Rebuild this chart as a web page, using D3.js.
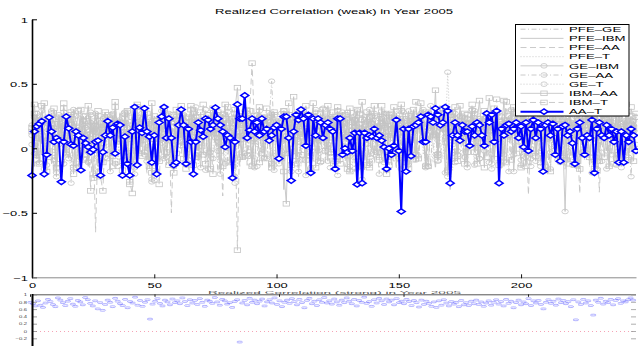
<!DOCTYPE html>
<html>
<head>
<meta charset="utf-8">
<script src="https://cdn.jsdelivr.net/npm/d3@7"></script>
<style>
  body { margin: 0; background: #fff; }
  svg { display: block; }
  text { font-family: "Liberation Sans", Arial, sans-serif; }
</style>
</head>
<body>
<svg id="chart" width="638" height="346"></svg>
<script>
const seriesNames = ["PFE–GE", "PFE–IBM", "PFE–AA", "PFE–T", "GE–IBM", "GE–AA", "GE–T", "IBM–AA", "IBM–T", "AA–T"];

const pfeGe = [.12,.05,-.08,.18,.22,.03,-.12,.15,.09,.27,-.04,.11,.20,-.15,.06,.14,.25,-.02,.08,.17,-.10,.21,.04,.13,-.06,.19,.10,-.18,.24,.07,.01,
  .16,-.09,.23,.12,.02,.28,-.05,.09,.18,-.13,.14,.26,.05,-.07,.20,.11,-.20,.15,.31,.03,.08,-.11,.22,.17,-.03,.12,.25,.00,-.16,.19,.09,
  .13,.27,-.08,.06,.21,.14,-.12,.18,.03,.24,.10,-.06,.29,.15,-.19,.11,.07,.22,-.02,.16,.30,.05,-.10,.19,.12,.26,-.14,.08,.21,.02,.17,
  -.07,.23,.14,.09,-.17,.28,.11,.04,.19,-.09,.25,.13,.06,-.04,.20,.16,-.22,.12,.27,.08,.01,.18,-.11,.24,.15,.03,.21,-.05,.10,.30,.07,
  -.13,.17,.22,.02,.14,-.08,.26,.11,-.18,.19,.09,.23,-.03,.15,.28,.06,-.12,.20,.13,.00,.24,-.07,.17,.10,.29,-.15,.12,.21,.04,.18,-.06,
  .25,.14,.08,-.10,.22,.31,.05,.16,-.14,.19,.12,.27,-.04,.09,.23,.15,-.20,.18,.06,.26,.11,-.08,.21,.14,.02,.28,.17,-.12,.07,.24,.13,
  .03,.20,-.09,.25,.16,.10,-.16,.22,.30,.08,.14,-.05,.19,.11,.27,-.13,.06,.21,.15,-.02,.24,.09,.18,-.11,.28,.12,.04,.20,-.07,.16,.26,
  .10,-.17,.23,.13,.07,.19,-.03,.25,.15,-.09,.21,.11,.29,.05,-.14,.18,.24,.08,.14,-.06,.22,.17,.01,.27,-.10,.12,.20,.06,.15,-.04,.19];

const pfeIbm = [.20,.14,.26,.08,-.05,.18,.23,.11,-.12,.16,.29,.07,.19,-.03,.24,.13,.02,.21,.17,-.09,.25,.10,.15,-.14,.22,.06,.28,.12,-.01,.19,.09,
  .23,-.06,.14,.27,.04,.18,-.11,.21,.13,.08,.30,-.08,.16,.24,.01,.20,.12,-.16,.26,.09,.17,.05,-.04,.22,.15,.28,-.10,.11,.19,.03,.25,
  .14,-.13,.21,.07,.27,.16,-.02,.23,.10,.18,-.07,.29,.12,.04,.20,-.15,.25,.13,.08,.22,-.05,.17,.31,.06,-.09,.19,.14,.26,.02,-.12,.21,
  .11,.24,-.04,.18,.08,.28,.15,-.10,.20,.13,-.32,.22,.05,.17,.26,-.06,.12,.19,.09,-.14,.27,.16,.03,.21,-.08,.25,.11,.18,-.01,.23,.14,
  .06,.20,-.11,.26,.15,.09,-.05,.22,.30,.12,-.17,.18,.07,.24,.14,-.03,.21,.10,.28,-.09,.16,.23,.04,-.13,.19,.27,.11,.02,.25,-.06,.17,
  .13,.29,-.08,.20,.10,.24,-.15,.16,.07,.22,.33,-.04,.18,.12,.26,.01,-.32,.21,.14,-.10,.19,.09,.25,-.07,.15,.28,.05,.20,-.12,.23,.11,
  .17,.02,.26,-.09,.14,.21,.08,-.14,.24,.18,.11,-.03,.29,.15,.06,.22,-.11,.19,.13,.27,-.06,.10,.23,.16,-.16,.20,.12,.04,.25,-.02,.18,
  .21,.09,-.10,.26,.14,.19,.03,-.07,.23,.16,.28,-.13,.12,.20,.07,-.04,.24,.17,.10,-.15,.22,.13,.27,.05,-.08,.18,.25,.11,-.01,.21,.15];

const pfeAa = [.09,-.14,.17,.05,.22,-.07,.13,.25,.01,-.19,.16,.10,.28,-.03,.19,.07,-.11,.23,.14,.02,-.16,.20,.11,.26,-.05,.15,-.65,.08,.18,-.09,.24,
  .12,.04,-.12,.21,.15,.27,-.06,.10,.18,-.15,.24,.07,.13,-.02,.20,.29,-.10,.16,.06,.22,-.08,.11,.19,.03,-.13,.25,-.50,.14,.08,.21,-.04,
  .17,.11,-.17,.26,.05,.20,.13,-.07,.23,.09,.16,-.11,.28,.02,.18,.12,-.37,.22,.15,.07,-.05,.25,.19,-.14,.10,.27,.04,.16,-.09,.21,.13,
  .08,.24,-.03,.18,.11,-.16,.26,.14,.05,.21,-.10,.17,.29,.09,-.06,.23,.13,.01,.19,-.13,.25,.10,.16,-.02,.22,.07,.28,-.11,.15,.20,.04,
  -.08,.18,.12,.26,-.14,.21,.06,.15,-.04,.24,.11,.19,-.18,.27,.08,.14,.02,-.09,.22,.16,.29,-.06,.12,.20,.05,-.15,.25,.10,.17,-.02,.23,
  .14,.07,-.12,.21,.28,.11,-.07,.18,.24,.03,-.16,.20,.13,.26,-.05,.15,.09,.22,-.10,.17,.30,.06,-.13,.19,.12,.25,-.03,.16,.08,.23,-.09,
  .20,.13,.27,-.06,.11,.18,-.14,.24,.09,.16,.03,-.11,.22,.14,.29,-.04,.17,-.36,.10,.21,.06,-.08,.25,.15,.12,-.17,.19,.08,.26,.02,-.05,
  .18,.23,.11,-.10,.16,.27,.07,-.35,.20,.13,.04,.24,.15,-.06,.19,-.34,.10,.22,.28,-.12,.17,.09,.25,.01,-.07,.21,.14,.26,-.03,.18,.11];

const pfeT = [.15,.22,.03,-.10,.18,.26,.11,-.04,.20,.14,-.17,.24,.07,.19,.12,-.08,.27,.16,.05,-.13,.21,.10,.25,-.02,.17,.08,.23,-.11,.14,.28,.06,
  -.05,.19,.13,.24,-.14,.16,.09,.21,.02,-.09,.26,.15,.11,-.03,.22,.18,.06,-.16,.25,.12,.20,-.07,.14,.29,.08,-.12,.17,.23,.04,.19,-.01,
  .21,.10,-.13,.25,.16,.07,.28,-.06,.18,.12,-.19,.23,.15,.04,-.10,.20,.27,.09,-.04,.17,.13,.24,-.15,.11,.19,.05,.26,-.08,.16,.22,.01,
  .13,-.11,.20,.27,.08,-.02,.18,.14,.25,-.12,.10,.22,.06,-.07,.19,.15,.28,-.14,.12,.21,.03,.17,-.09,.24,.11,.16,-.05,.26,.09,.20,-.16,
  .18,.07,.23,-.04,.15,.29,.10,-.12,.21,.13,.02,.26,-.08,.17,.11,-.15,.24,.19,.06,-.03,.22,.14,.27,-.10,.09,.18,.25,-.06,.16,.12,.20,
  -.13,.23,.08,.17,.26,-.05,.14,.21,.10,-.11,.19,.28,.04,-.08,.16,.22,.12,-.17,.25,.07,.18,.13,-.02,.24,.15,.09,-.14,.20,.27,.06,.11,
  .19,-.07,.24,.13,.08,.21,-.12,.16,.27,.05,.14,-.09,.22,.18,.10,-.15,.25,.12,.03,.20,-.04,.17,.28,.09,-.10,.23,.15,.07,.19,-.13,.26,
  .12,.18,-.06,.22,.14,.29,.03,-.11,.20,.16,.09,-.14,.25,.11,.19,-.03,.23,.13,.06,-.09,.27,.15,.21,-.05,.10,.17,.24,-.12,.14,.20,.08];

const geIbm = [.10,.24,-.06,.17,.29,.05,-.13,.21,.14,.08,-.22,.26,.12,.18,-.04,.23,.09,.30,-.15,.16,.11,.25,.02,-.10,.20,.13,.27,-.07,.19,.06,.22,
  .15,-.18,.25,.09,.20,.13,-.02,.28,.16,.07,-.12,.23,.11,.19,.31,-.05,.14,.21,-.26,.17,.08,.24,.12,-.08,.20,.27,.05,-.14,.18,.22,.10,
  .26,.13,-.09,.21,.16,.32,.04,-.15,.19,.23,.11,-.03,.25,.17,.08,-.20,.22,.14,.28,.06,-.11,.18,.24,.10,-.06,.21,.30,.15,-.13,.12,.26,
  .08,.19,-.08,.23,.15,.27,-.17,.11,.20,.05,.29,-.04,.16,.22,.13,-.12,.25,.09,.18,-.21,.14,.26,.07,.21,-.02,.17,.31,.12,-.10,.24,.15,
  .20,-.07,.13,.28,.09,.22,-.14,.17,.25,.06,.19,-.24,.12,.21,.30,.08,-.05,.16,.23,.14,-.11,.27,.10,.18,-.03,.24,.15,-.16,.20,.11,.29,
  .07,-.09,.22,.17,.26,.12,-.13,.19,.33,.10,.24,-.06,.15,.21,-.19,.28,.13,.08,.23,-.02,.18,.25,.11,-.15,.20,.14,.27,.04,-.08,.22,.16,
  .24,.11,-.12,.19,.27,.08,.16,-.05,.22,.13,.30,-.18,.14,.20,.09,.25,-.07,.17,.12,.28,-.10,.21,.15,.06,-.14,.23,.18,.26,.02,-.09,.19,
  .13,-.49,.21,.16,.07,.25,-.11,.18,.12,.28,-.04,.20,.15,.23,-.16,.10,.26,.14,-.02,.19,.24,.08,-.13,.22,.17,.11,.27,-.07,.16,.21,.12];

const geAa = [.03,.17,.27,-.11,.13,.20,-.05,.24,.09,.16,-.19,.22,.11,.28,.01,-.08,.19,.14,.25,-.14,.10,.21,.06,-.03,.26,.15,-.21,.18,.12,.23,-.07,
  .19,.08,.26,-.12,.15,.22,.04,-.09,.28,.13,.18,-.15,.21,.10,.27,-.03,.16,.24,-.24,.12,.20,.07,.29,-.06,.14,.19,-.11,.25,.09,.17,.02,
  .22,-.13,.18,.11,.27,.05,-.07,.20,.15,.30,-.16,.12,.24,.08,-.02,.19,.26,.13,-.10,.21,.16,-.27,.23,.09,.18,.29,-.05,.14,.20,.07,-.14,
  .25,.17,.10,-.08,.22,.52,.13,.19,-.12,.27,.06,.16,-.04,.23,.14,.20,-.18,.11,.26,.09,-.06,.21,.15,.28,-.10,.17,.12,.24,.03,-.15,.19,
  .14,.26,-.09,.18,.11,.23,-.17,.20,.08,.29,.15,-.04,.22,.13,-.12,.25,.17,.06,-.20,.19,.27,.10,-.07,.24,.14,.21,-.01,.16,.28,.09,-.13,
  .21,.12,.25,-.06,.17,.30,.08,-.14,.19,.23,.11,-.10,.26,.15,.04,-.22,.20,.13,.27,-.05,.18,.24,.09,-.12,.22,.16,.29,.02,-.08,.19,.14,
  .26,-.11,.17,.22,.08,.28,-.04,.15,.20,-.18,.24,.12,.19,.05,-.09,.27,.16,.21,-.14,.13,.25,.10,-.02,.23,.18,.07,-.16,.20,.29,.11,.15,
  -.07,.22,.14,.26,-.13,.19,.09,.24,-.03,.17,.28,.12,-.19,.21,.15,.06,-.10,.25,.18,.23,-.05,.16,.11,.27,-.15,.20,.13,.08,-.22,.18,.24];

const geT = [.18,-.04,.11,.25,.07,-.16,.21,.14,.29,-.09,.17,.03,.23,-.12,.19,.10,-.27,.26,.13,.08,-.02,.22,.16,-.11,.28,.05,.15,-.18,.20,.12,.24,
  -.08,.17,.27,.09,-.14,.21,.13,.26,-.03,.18,.10,-.20,.24,.15,.06,.29,-.10,.19,.12,-.25,.22,.16,.04,.27,-.07,.14,.20,-.13,.25,.11,.18,
  .06,-.10,.23,.17,.28,-.05,.13,.20,.09,-.17,.26,.14,-.08,.21,.18,.03,.27,-.12,.16,.22,.10,-.22,.19,.25,.07,-.04,.24,.15,.11,-.15,.20,
  .29,.12,-.07,.18,.24,.08,-.13,.21,.16,-.02,.27,.10,.19,-.18,.23,.14,.05,-.09,.26,.17,.12,-.15,.22,.30,.06,-.11,.18,.25,.13,-.04,.21,
  .16,-.21,.24,.11,.19,.28,-.06,.14,.22,.09,-.14,.26,.17,.03,-.10,.20,.27,.13,-.03,.23,.18,-.17,.25,.10,.15,.29,-.08,.19,.12,.21,-.12,
  .24,.14,-.09,.20,.27,.07,-.15,.18,.22,.11,.26,-.04,.16,.21,.09,.59,.13,.28,-.11,.19,.25,.06,-.07,.23,.15,.30,-.13,.17,.12,.20,-.02,
  .27,.13,-.16,.22,.17,.08,.25,-.10,.19,.14,.29,-.05,.21,.11,-.13,.26,.16,.04,-.08,.23,.18,.28,-.14,.15,.20,.10,-.03,.24,.13,.19,-.11,
  .22,.16,.27,-.06,.18,.11,-.14,.25,.20,.09,-.04,.23,.15,.28,-.10,.17,.12,.26,-.16,.21,.14,.07,-.08,.24,.19,.29,-.02,.16,.22,.13,.03];

const ibmAa = [.16,.34,.08,-.12,.22,.35,.13,-.07,.27,.19,-.15,.24,.10,.31,-.03,.18,.26,-.20,.14,.29,.06,-.09,.21,.33,.11,-.23,.17,.25,.04,-.11,.28,
  .15,.22,-.06,.36,.12,.20,-.17,.27,.09,-.28,.24,.16,.32,-.04,.19,.26,.11,-.14,.35,.07,.21,-.10,.18,.29,-.03,.23,.13,-.19,.30,.10,.25,
  -.08,.20,.15,.33,-.13,.24,.09,.28,-.05,.17,.22,-.16,.31,.12,.26,-.02,.19,.34,.08,-.11,.23,.30,.47,.16,-.07,.21,.27,.11,-.14,.25,.18,
  .32,-.04,.19,.24,.10,-.12,.28,.15,.21,.07,-.18,-.43,.26,.13,.40,-.06,.22,.17,.30,-.09,.24,.12,.35,-.15,.20,.27,.08,-.02,.33,.16,.23,
  -.10,.29,.18,.25,.05,-.16,.31,.14,.22,-.07,.27,.36,.11,-.13,.24,.19,.33,-.03,.17,.28,.09,-.20,.26,.15,.32,-.08,.21,.34,.12,-.11,.25,
  .18,.30,-.05,.23,.35,.13,-.14,.27,.20,.09,.45,-.09,.24,.31,.16,-.18,.22,.28,.11,-.06,.33,.19,-.12,.26,.14,.29,-.03,.21,.37,.10,-.15,
  .24,.39,.17,-.08,.28,.21,.13,.37,-.11,.25,.19,.32,-.04,.22,.15,.30,-.14,.27,.09,.34,-.06,.20,.26,.12,-.17,.31,.18,.23,-.02,.29,.14,
  .33,-.09,.21,.27,.16,-.13,.30,.19,.24,-.05,.35,.12,.22,-.16,.28,.17,.32,-.07,.20,.26,.11,-.12,.31,.23,.15,-.03,.34,.18,.25,-.10,.27];

const ibmT = [.13,.27,-.09,.20,.33,.06,-.18,.24,.15,.31,-.12,.19,.08,.35,-.05,.22,.28,-.15,.17,.11,.30,-.08,.25,.14,-.33,.21,.09,.29,-.22,-.33,.18,
  .26,.12,-.14,.32,.19,.07,-.10,.23,.29,-.26,-.35,.16,.34,.10,-.06,.21,.27,.13,-.19,.25,.18,-.28,.22,.31,.08,-.13,.20,.26,-.04,.15,.33,
  .11,-.16,.24,.30,.09,-.07,.21,.17,.34,-.12,.26,.14,-.20,.19,.28,.05,-.14,.23,.32,.12,-.09,.27,-.79,.18,.25,.10,-.06,.29,.66,.16,.21,
  -.11,.24,.18,.31,.07,-.15,.26,.20,.13,-.08,.29,.16,.35,-.13,.22,.10,.27,-.05,.19,.33,.12,-.17,.25,.21,.08,-.10,.30,.15,.23,-.03,.28,
  .14,.32,-.12,.20,.26,.09,-.18,.24,.17,.30,-.06,.22,.13,.28,-.15,.19,.25,.11,-.09,.33,.16,.21,-.13,.27,.08,.18,-.04,.29,.23,.12,-.16,
  .25,.19,.36,-.08,.22,.13,.28,-.14,.17,.24,.10,-.05,.30,.20,.15,-.17,.26,.11,.32,-.10,.21,.16,.27,-.03,.19,.34,.09,-.12,.23,.18,.29,
  -.07,.22,.14,.31,.38,-.13,.24,.19,.36,.10,-.09,.27,.16,.21,-.15,.30,.12,.25,-.04,.20,.33,.08,-.11,.26,.17,.23,-.18,.28,.13,.19,-.06,
  .24,.31,.15,-.12,.20,.27,.09,-.16,.25,.18,.33,-.07,.22,.14,.29,-.10,.19,.26,.11,-.14,.30,.17,.23,-.05,.28,.13,.21,-.09,.32,.16,.24];

const aaT = [-.21,.13,.17,.19,.21,-.20,-.05,.24,.13,.05,.08,.06,-.26,.05,.245,.155,.03,.02,.13,.10,-.17,.08,.04,.01,-.03,-.01,.05,.06,-.21,-.03,
  .10,.21,.10,.16,-.04,.19,.18,-.21,.09,-.12,-.21,.13,.32,-.13,.16,.12,.31,.13,.09,-.11,
  .10,-.20,.20,.245,.32,.08,.23,.08,-.13,-.11,.18,.30,.18,-.12,.15,.05,-.20,.05,.20,.14,.09,.23,.22,.15,.18,.315,.23,.18,.13,.01,
  .10,.08,-.23,.05,.34,.23,.23,.41,.08,.14,.23,.13,.20,.10,.23,.13,.15,.06,
  .10,.16,.18,-.08,.15,.245,.245,.08,-.25,.13,.26,.22,.30,.23,.02,.26,-.19,.23,.10,.23,.20,.08,.18,.20,.15,.13,-.16,.23,.23,-.05,
  .00,-.03,.08,-.02,.12,-.28,.12,-.27,.12,.08,.10,.09,.15,.08,.10,.06,.01,-.16,.00,
  -.05,.02,.22,-.02,-.49,.15,-.18,.15,-.06,.17,.18,.20,.245,.05,.05,.26,.245,.20,.31,.26,.18,.20,.32,.29,-.27,.10,.20,.10,.06,.18,
  .13,.13,.02,.17,.10,.20,.18,.10,.02,.27,.20,.26,.05,.29,-.27,.15,.10,.18,.19,.13,
  .15,.20,.08,.17,.01,.20,-.02,.15,.22,.08,.20,.15,-.18,.18,.20,.10,.19,-.05,.15,-.10,.17,.18,.10,.13,.04,-.12,.15,.20,.08,-.05,
  .10,.08,.22,-.19,.15,.20,.10,.08,.18,.10,.15,.05,.13,-.11,.13,-.11,.10,.05,.15,.10,-.02];

const yTicks = [-1, -0.5, 0, 0.5, 1];
const xTicks = [0, 50, 100, 150, 200];

// second figure, mostly hidden under the first one
const lowerVals = [.80,.76,.70,.84,.72,.66,.78,.88,.82,.74,.68,.92,.86,.79,.71,.83,.90,.75,.69,.85,.81,.73,.93,.87,.77,.70,.84,.62,.79,.58,
  .74,.86,.80,.68,.91,.83,.76,.71,.88,.65,.82,.78,.94,.72,.85,.69,.80,.87,.34,.75,.83,.90,.77,.70,.86,.81,.73,.89,.79,.84,
  .76,.92,.82,.71,.87,.78,.85,.74,.90,.80,.69,.86,.83,.77,.93,.81,.72,.88,.84,.75,.79,.66,.82,.87,-.29,.78,.85,.73,.91,.80,
  .86,.76,.83,.89,.70,.81,.87,.78,.92,.74,.84,.68,.80,.86,.77,.90,.82,.73,.88,.79,.65,.85,.91,.76,.83,.71,.87,.80,.93,.78,
  .84,.75,.89,.81,.72,.86,.79,.92,.83,.76,.88,.70,.85,.80,.94,.77,.82,.69,.87,.78,.91,.84,.74,.89,.81,.86,.73,.90,.79,.83,
  .76,.88,.82,.71,.85,.79,.67,.86,.74,.83,.77,.69,.81,.66,.84,.72,.87,.78,.70,.82,.75,.80,.68,.85,.73,.79,.71,.83,.76,.86,
  .74,.81,.69,.78,.84,.72,.80,.87,.75,.82,.70,.88,.77,.83,.65,.79,.86,.73,.81,.76,.90,.71,.84,.78,.85,.74,.62,.80,.87,.77,
  .83,.72,.89,.79,.85,.76,.82,.68,.87,.32,.81,.74,.88,.78,.84,.71,.45,.86,.80,.91,.75,.83,.79,.88,.73,.85,.90,.77,.84,.81,.87,.92,.86];
const lowerTicks = [1, 0.8, 0.6, 0.4, 0.2, 0, -0.2];
const lowerXTicks = [0, 50, 100, 150, 200];

const grayData = [pfeGe, pfeIbm, pfeAa, pfeT, geIbm, geAa, geT, ibmAa, ibmT];
const gray = "#c4c4c4";
const dashDot = "5,2.5,1,2.5", dashed = "6,3.5", dotted = "1,2";
const styles = [
  { dash: dashDot, marker: null },
  { dash: null, marker: null },
  { dash: dashed, marker: null },
  { dash: dotted, marker: null },
  { dash: null, marker: "circle" },
  { dash: dashDot, marker: "circle" },
  { dash: dotted, marker: "circle" },
  { dash: null, marker: "square" },
  { dash: dashed, marker: "square" },
];

const TX = 1.72; // the figure is stretched sideways
const svg = d3.select("#chart");

function label(g, x, y, str, size, anchor, fill) {
  return g.append("text")
    .attr("transform", `translate(${x},${y}) scale(${TX},1)`)
    .attr("text-anchor", anchor)
    .attr("font-size", size)
    .attr("fill", fill || "#000")
    .text(str);
}

function drawMarker(g, type, cx, cy, color, sw) {
  if (type === "circle") {
    g.append("ellipse").attr("cx", cx).attr("cy", cy).attr("rx", 3.2).attr("ry", 2.3)
      .attr("fill", "none").attr("stroke", color).attr("stroke-width", sw);
  } else if (type === "square") {
    g.append("rect").attr("x", cx - 3.2).attr("y", cy - 2.3).attr("width", 6.4).attr("height", 4.6)
      .attr("fill", "none").attr("stroke", color).attr("stroke-width", sw);
  } else if (type === "diamond") {
    g.append("path").attr("d", `M${cx},${cy - 2.7}L${cx + 4},${cy}L${cx},${cy + 2.7}L${cx - 4},${cy}Z`)
      .attr("fill", "#fff").attr("stroke", color).attr("stroke-width", sw);
  }
}

// ---- lower figure (peeking out below) ----
const lx = d3.scaleLinear().domain([0, 243]).range([30.5, 635.6]);
const ly = d3.scaleLinear().domain([-0.2, 1]).range([338.8, 295]);
const lower = svg.append("g");

lower.append("line").attr("x1", 32).attr("x2", 636).attr("y1", ly(0)).attr("y2", ly(0))
  .attr("stroke", "#f5a3b5").attr("stroke-width", 1).attr("stroke-dasharray", "1,3");

lower.selectAll("ellipse.pt")
  .data(lowerVals)
  .enter().append("ellipse")
  .attr("class", "pt")
  .attr("cx", (d, i) => lx(i))
  .attr("cy", d => ly(d))
  .attr("rx", 2.8).attr("ry", 0.9)
  .attr("fill", "none").attr("stroke", "#3a3aff").attr("stroke-width", 0.7).attr("opacity", 0.55);

// its title only shows as a thin strip of tiny glyphs
lower.append("text")
  .attr("x", 334.5).attr("y", 294)
  .attr("text-anchor", "middle")
  .attr("font-size", 3.4)
  .attr("textLength", 253).attr("lengthAdjust", "spacingAndGlyphs")
  .attr("fill", "#555")
  .text("Realized Correlation (strong) in Year 2005");

lower.append("line").attr("x1", 32).attr("x2", 636).attr("y1", 294.8).attr("y2", 294.8)
  .attr("stroke", "#555").attr("stroke-width", 1);
lowerXTicks.forEach(t => {
  lower.append("line").attr("x1", lx(t)).attr("x2", lx(t)).attr("y1", 294.3).attr("y2", 296.8)
    .attr("stroke", "#222").attr("stroke-width", 1);
});
lowerTicks.forEach(t => {
  lower.append("line").attr("x1", 32).attr("x2", 37).attr("y1", ly(t)).attr("y2", ly(t))
    .attr("stroke", "#888").attr("stroke-width", 0.8);
  lower.append("line").attr("x1", 631).attr("x2", 636).attr("y1", ly(t)).attr("y2", ly(t))
    .attr("stroke", "#999").attr("stroke-width", 0.8);
  label(lower, 27, ly(t) + 1.2, d3.format("~g")(t).replace("-", "−"), 3.4, "end", "#444");
});
lower.append("line").attr("x1", 32.5).attr("x2", 32.5).attr("y1", 294).attr("y2", 346)
  .attr("stroke", "#000").attr("stroke-width", 2);

// ---- main figure ----
const x = d3.scaleLinear().domain([0, 247]).range([32, 636]);
const y = d3.scaleLinear().domain([-1, 1]).range([277.3, 19.3]);
const line = d3.line().x((d, i) => x(i)).y(d => y(d));

const plot = svg.append("g");

grayData.forEach((vals, k) => {
  const st = styles[k];
  const g = plot.append("g");
  g.append("path")
    .datum(vals)
    .attr("d", line)
    .attr("fill", "none")
    .attr("stroke", gray)
    .attr("stroke-width", 0.9)
    .attr("stroke-dasharray", st.dash);
  if (st.marker) {
    vals.forEach((v, i) => drawMarker(g, st.marker, x(i), y(v), gray, 0.8));
  }
});

const blue = plot.append("g");
blue.append("path")
  .datum(aaT)
  .attr("d", line)
  .attr("fill", "none")
  .attr("stroke", "#0000ff")
  .attr("stroke-width", 2)
  .attr("stroke-linejoin", "round");
aaT.forEach((v, i) => drawMarker(blue, "diamond", x(i), y(v), "#0000ff", 1.5));

// axes
const yAxis = svg.append("g")
  .attr("transform", "translate(32,0)")
  .call(d3.axisLeft(y).tickValues(yTicks).tickSize(-5).tickSizeOuter(0).tickFormat(d3.format("~g")));
yAxis.select(".domain").attr("stroke", "#000").attr("stroke-width", 1.6);
yAxis.selectAll(".tick line").attr("stroke", "#000");
yAxis.selectAll(".tick text")
  .attr("x", null).attr("dy", null)
  .attr("transform", `translate(-4,2.7) scale(${TX},1)`)
  .attr("font-size", 7.5)
  .attr("font-family", "Liberation Sans, Arial, sans-serif")
  .attr("fill", "#000")
  .text(d => d3.format("~g")(d).replace("-", "−"));

const xAxis = svg.append("g")
  .attr("transform", `translate(0,${y(-1)})`)
  .call(d3.axisBottom(x).tickValues(xTicks).tickSize(-3).tickSizeOuter(0));
xAxis.select(".domain").attr("stroke", "#8a8a8a").attr("stroke-width", 1);
xAxis.selectAll(".tick line").attr("stroke", "#111").attr("y2", -3).attr("y1", 1);
xAxis.selectAll(".tick text")
  .attr("y", null).attr("dy", null)
  .attr("transform", `translate(0,10.5) scale(${TX},1)`)
  .attr("font-size", 7.5)
  .attr("font-family", "Liberation Sans, Arial, sans-serif")
  .attr("fill", "#000");

// title
svg.append("text")
  .attr("x", 334).attr("y", 14)
  .attr("text-anchor", "middle")
  .attr("font-size", 7.2)
  .attr("textLength", 238).attr("lengthAdjust", "spacingAndGlyphs")
  .text("Realized Correlation (weak) in Year 2005");

// legend
const legend = svg.append("g");
legend.append("rect")
  .attr("x", 515.5).attr("y", 24.5).attr("width", 113.5).attr("height", 91.5)
  .attr("fill", "#fff").attr("stroke", "#000").attr("stroke-width", 1);
seriesNames.forEach((name, k) => {
  const cy = 29.2 + k * 9.16;
  const isBlue = k === 9;
  const st = isBlue ? { dash: null, marker: "diamond" } : styles[k];
  const col = isBlue ? "#0000ff" : gray;
  legend.append("line")
    .attr("x1", 520.5).attr("x2", 563.5).attr("y1", cy).attr("y2", cy)
    .attr("stroke", col)
    .attr("stroke-width", isBlue ? 2 : 0.9)
    .attr("stroke-dasharray", st.dash);
  if (st.marker) drawMarker(legend, st.marker, 544, cy, col, isBlue ? 1.5 : 0.8);
  label(legend, 569, cy + 2.8, name, 7.7, "start", "#000");
});
</script>
</body>
</html>
